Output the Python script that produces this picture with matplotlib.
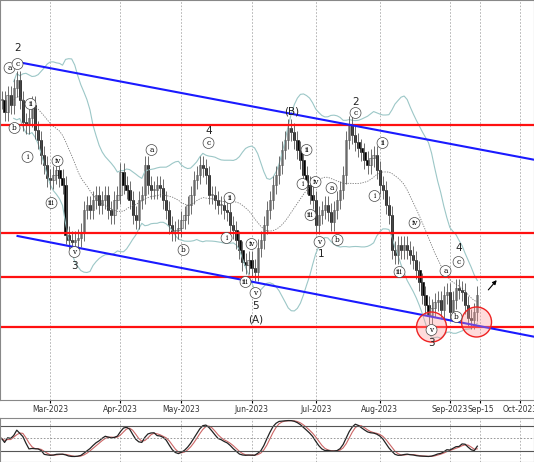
import numpy as np
import pandas as pd
import matplotlib.pyplot as plt
from matplotlib.patches import Rectangle, Ellipse

depth = [100, 112, 95, 105, 88, 80, 100, 122, 125, 118, 105, 130, 140, 155, 165, 178,
         180, 175, 170, 178, 185, 235, 240, 242, 240, 238, 232, 210, 205, 210, 200, 195, 205, 200, 195, 210, 215, 200, 195,
         172, 185, 190, 200, 215, 220, 200, 195, 165, 185, 190, 190, 185, 188, 200, 210, 225, 232, 230, 228,
         220, 215, 205, 195, 180, 175, 165, 168, 175, 195, 195, 200, 205, 205, 210, 212, 225, 230, 240, 250, 262, 265, 260,
         268, 272, 248, 240, 225, 210, 200, 185, 175, 165, 150, 140, 128, 132, 140, 150, 160, 175, 185, 195, 200,
         225, 215, 210, 205, 212, 222, 210, 200, 190, 175, 140, 125, 135, 142, 148, 152, 160, 165, 158, 155, 170,
         185, 190, 205, 215, 250, 255, 245, 250, 245, 250, 255, 260, 270, 282, 295, 305, 315, 308, 302, 300, 310, 295, 292,
         312, 300, 288, 290, 292, 305, 318, 320, 312, 295]
closes = 400 - np.array(depth, dtype=float)

support_resistance = [275, 167, 123, 73]
upper_channel = [(16, 338), (534, 240)]   # (x px, level)
lower_channel = [(16, 164), (534, 63)]

# wave labels: (x px, depth px, text, circled)
labels = [(16, 48, '2', 0), (8, 68, 'a', 1), (16, 64, 'c', 1), (13, 128, 'b', 1), (29, 104, 'ii', 1),
          (26, 157, 'i', 1), (56, 161, 'iv', 1), (50, 203, 'iii', 1), (73, 252, 'v', 1), (73, 266, '3', 0),
          (150, 150, 'a', 1), (207, 143, 'c', 1), (207, 131, '4', 0), (182, 250, 'b', 1), (228, 198, 'ii', 1),
          (225, 238, 'i', 1), (250, 244, 'iv', 1), (244, 282, 'iii', 1), (254, 293, 'v', 1), (254, 306, '5', 0),
          (254, 319, '(A)', 0), (290, 112, '(B)', 0), (305, 150, 'ii', 1), (309, 215, 'iii', 1), (301, 184, 'i', 1),
          (314, 182, 'iv', 1), (318, 242, 'v', 1), (320, 254, '1', 0), (330, 188, 'a', 1), (336, 240, 'b', 1),
          (354, 102, '2', 0), (354, 113, 'c', 1), (381, 143, 'ii', 1), (373, 196, 'i', 1), (398, 272, 'iii', 1),
          (413, 223, 'iv', 1), (430, 330, 'v', 1), (430, 343, '3', 0), (444, 271, 'a', 1), (455, 317, 'b', 1),
          (457, 262, 'c', 1), (457, 248, '4', 0)]
red_circles = [(430, 327), (475, 322)]

PX = 3.05  # pixels per bar
n = len(closes)
x = np.arange(n)
opens = np.r_[closes[0], closes[:-1]]
highs = np.maximum(opens, closes) + 9
lows = np.minimum(opens, closes) - 9

fig = plt.figure(figsize=(5.34, 4.62), dpi=100)
ax = fig.add_axes([0, 62 / 462, 1, 400 / 462])
ax2 = fig.add_axes([0, 0, 1, 44 / 462])

# bollinger bands
s = pd.Series(closes)
mid = s.rolling(20, min_periods=5).mean()
sd = s.rolling(20, min_periods=5).std()
ax.plot(x, mid, color='#777777', lw=0.6, ls=(0, (1.5, 1.5)))
ax.plot(x, mid + 2 * sd, color='#9cc7c7', lw=0.8)
ax.plot(x, mid - 2 * sd, color='#9cc7c7', lw=0.8)

for i in range(n):
    ax.vlines(i, lows[i], highs[i], color='#555555', lw=0.6)
    up = closes[i] >= opens[i]
    lo, hi = min(opens[i], closes[i]), max(opens[i], closes[i])
    ax.add_patch(Rectangle((i - 0.38, lo), 0.76, max(hi - lo, 1.0),
                           facecolor='#dddddd' if up else 'black', edgecolor='#555555' if up else 'black', lw=0.4))

for lvl in support_resistance:
    ax.axhline(lvl, color='#ff1010', lw=1.6)
for ch in (upper_channel, lower_channel):
    ax.plot([ch[0][0] / PX, ch[1][0] / PX], [ch[0][1], ch[1][1]], color='#1a1aff', lw=1.5)

for cx, cy in red_circles:
    ax.add_patch(Ellipse((cx / PX, 400 - cy), 30 / PX, 30, facecolor=(1, 0.6, 0.6, 0.35),
                         edgecolor='#ee2222', lw=1.0, zorder=5))
ax.annotate('', xy=(497 / PX, 400 - 278), xytext=(485 / PX, 400 - 292),
            arrowprops=dict(arrowstyle='-|>', color='black', lw=0.8, mutation_scale=6))

for lx, ly, t, circ in labels:
    if circ:
        ax.text(lx / PX, 400 - ly, t, fontsize=5.3, ha='center', va='center', family='DejaVu Serif', zorder=6,
                bbox=dict(boxstyle='circle,pad=0.2', fc='white', ec='#444444', lw=0.5))
    else:
        ax.text(lx / PX, 400 - ly, t, fontsize=7.5, ha='center', va='center', color='#222222', zorder=6)

# month ticks (bar index of the first trading day shown for each column)
tick_text = ['Mar-2023', 'Apr-2023', 'May-2023', 'Jun-2023', 'Jul-2023', 'Aug-2023', 'Sep-2023', 'Sep-15', 'Oct-2023']
ticks = [16, 39, 59, 82, 103, 124, 147, 157, 170]

for a in (ax, ax2):
    a.set_xlim(-0.5, 534 / PX - 0.5)
    for t in ticks:
        a.axvline(t, color='#aaaaaa', lw=0.6, ls=(0, (2, 2)), zorder=0)
    a.set_yticks([])
    for sp in a.spines.values():
        sp.set_color('#888888')
        sp.set_linewidth(0.8)

ax.set_ylim(0, 400)
ax.set_xticks(ticks)
ax.set_xticklabels(tick_text, fontsize=5.5, color='#333333')
ax.tick_params(axis='x', length=2, pad=1.5)
ax2.set_xticks([])

# stochastic oscillator
hh = pd.Series(highs).rolling(18, min_periods=1).max()
ll = pd.Series(lows).rolling(18, min_periods=1).min()
k = (100 * (s - ll) / (hh - ll)).rolling(4, min_periods=1).mean()
d = k.rolling(3, min_periods=1).mean()
ax2.plot(x, d, color='#cc6666', lw=0.8)
ax2.plot(x, k, color='#222222', lw=0.9)
ax2.axhline(80, color='#555555', lw=0.8)
ax2.axhline(20, color='#555555', lw=0.8)
ax2.axhline(50, color='#888888', lw=0.6, ls=(0, (2, 2)))
ax2.set_ylim(-8, 100)

fig.savefig('out.png', dpi=100)
